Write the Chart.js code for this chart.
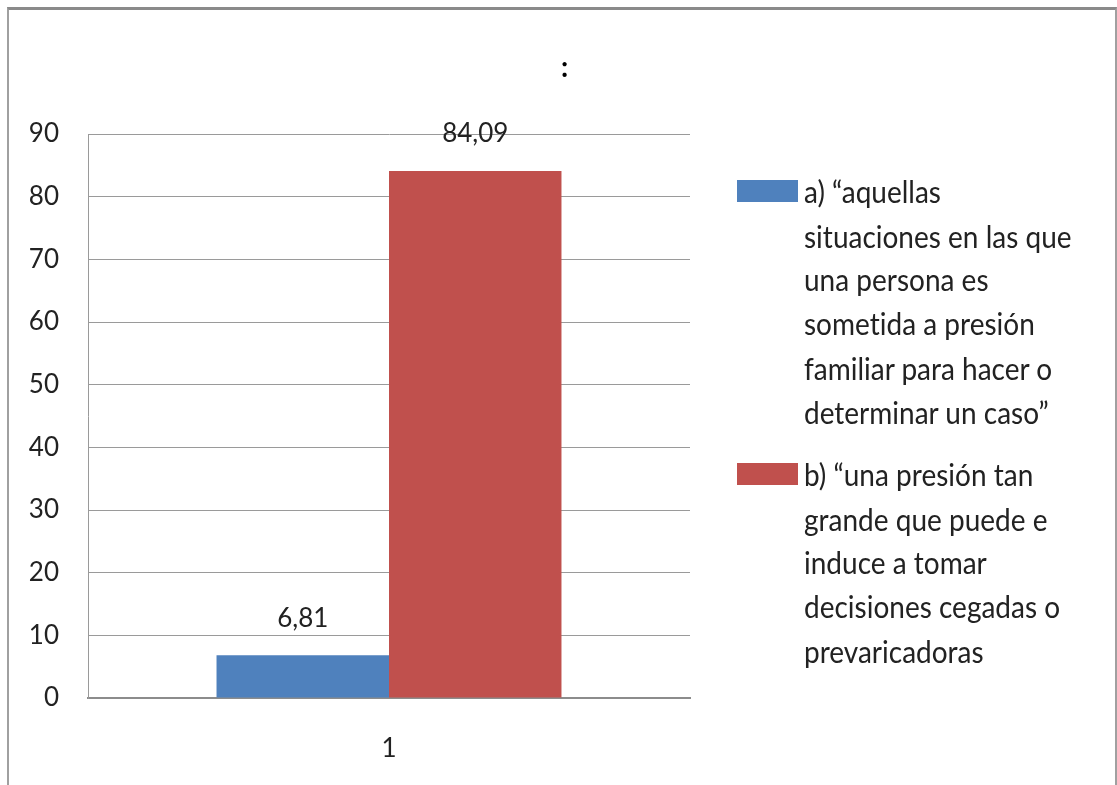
<!DOCTYPE html>
<html>
<head>
<meta charset="utf-8">
<script src="https://cdn.jsdelivr.net/npm/chart.js@4/dist/chart.umd.min.js"></script>
<style>
  body { margin: 0; background: #fff; }
  #wrap { position: relative; width: 1117px; height: 785px; overflow: hidden; }
  #frame {
    position: absolute; left: 7px; top: 7px; width: 1106px; height: 800px;
    border-top: 3px solid #8a8a8a; border-left: 2px solid #a0a0a0; border-right: 2px solid #a0a0a0;
    pointer-events: none;
  }
  #legend { position: absolute; left: 737px; top: 170px; font-family: Lato, "Open Sans", sans-serif; color: #222; font-variant-ligatures: none; }
  .item { position: absolute; left: 0; }
  .swatch { position: absolute; left: 0; top: 10px; width: 61px; height: 22px; }
  .txt { margin-left: 67px; font-size: 28px; line-height: 40.74px; white-space: nowrap; transform: scaleY(1.08); transform-origin: 0 0; }
</style>
</head>
<body>
<div id="wrap">
  <canvas id="chart" width="1117" height="785"></canvas>
  <div id="frame"></div>
  <div id="legend"></div>
</div>
<script>
// datos
const categories = ['1'];
const serieA = [6.81];
const serieB = [84.09];
const legendA = ['a) “aquellas', 'situaciones en las que', 'una persona es', 'sometida a presión', 'familiar para hacer o', 'determinar un caso”'];
const legendB = ['b) “una presión tan', 'grande que puede e', 'induce a tomar', 'decisiones cegadas o', 'prevaricadoras'];
const yTicks = [0, 10, 20, 30, 40, 50, 60, 70, 80, 90];
const colores = ['#4F81BD', '#C0504D'];
const titulo = ':';

const FONT = 'Lato, "Open Sans", sans-serif';
const fmt = v => v.toFixed(2).replace('.', ',');

// etiquetas encima de las barras + título centrado en todo el lienzo
const valueLabels = {
  id: 'valueLabels',
  afterDatasetsDraw(chart) {
    const ctx = chart.ctx;
    ctx.save();
    ctx.font = '26px ' + FONT;
    ctx.fillStyle = '#222';
    ctx.textAlign = 'center';
    ctx.textBaseline = 'middle';
    chart.data.datasets.forEach((ds, i) => {
      chart.getDatasetMeta(i).data.forEach((bar, j) => {
        ctx.fillText(fmt(ds.data[j]), bar.x, bar.y - 37);
      });
    });
    ctx.font = 'bold 28px ' + FONT;
    ctx.fillStyle = '#000';
    ctx.fillText(titulo, chart.width / 2 + 6, 68);
    ctx.restore();
  }
};

const chart = new Chart(document.getElementById('chart'), {
  type: 'bar',
  data: {
    labels: categories,
    datasets: [
      { label: legendA.join(' '), lines: legendA, data: serieA, backgroundColor: colores[0] },
      { label: legendB.join(' '), lines: legendB, data: serieB, backgroundColor: colores[1] }
    ]
  },
  options: {
    responsive: false,
    animation: false,
    devicePixelRatio: 1,
    layout: { padding: { left: 0, right: 427, top: 134, bottom: 0 } },
    datasets: { bar: { categoryPercentage: 0.573, barPercentage: 1 } },
    plugins: {
      legend: { display: false },
      tooltip: { enabled: false },
      title: { display: false }
    },
    scales: {
      x: {
        grid: { display: false, drawTicks: false },
        border: { color: '#8c8c8c', width: 2 },
        ticks: { color: '#222', padding: 35, font: { family: FONT, size: 26 } },
        afterFit(s) { s.height = 87; }
      },
      y: {
        min: 0, max: 90,
        afterBuildTicks(s) { s.ticks = yTicks.map(v => ({ value: v })); },
        grid: { color: '#9a9a9a', drawTicks: false },
        border: { color: '#9a9a9a' },
        ticks: { color: '#222', padding: 29, font: { family: FONT, size: 26 } },
        afterFit(s) { s.width = 88; }
      }
    }
  },
  plugins: [valueLabels]
});

// leyenda en HTML
const legendBox = document.getElementById('legend');
let posY = 0;
chart.data.datasets.forEach(ds => {
  const item = document.createElement('div');
  item.className = 'item';
  item.style.top = posY + 'px';
  item.innerHTML = `<div class="swatch" style="background:${ds.backgroundColor}"></div>
    <div class="txt">${ds.lines.join('<br>')}</div>`;
  legendBox.appendChild(item);
  posY += ds.lines.length * 44 + 19;
});
</script>
</body>
</html>
